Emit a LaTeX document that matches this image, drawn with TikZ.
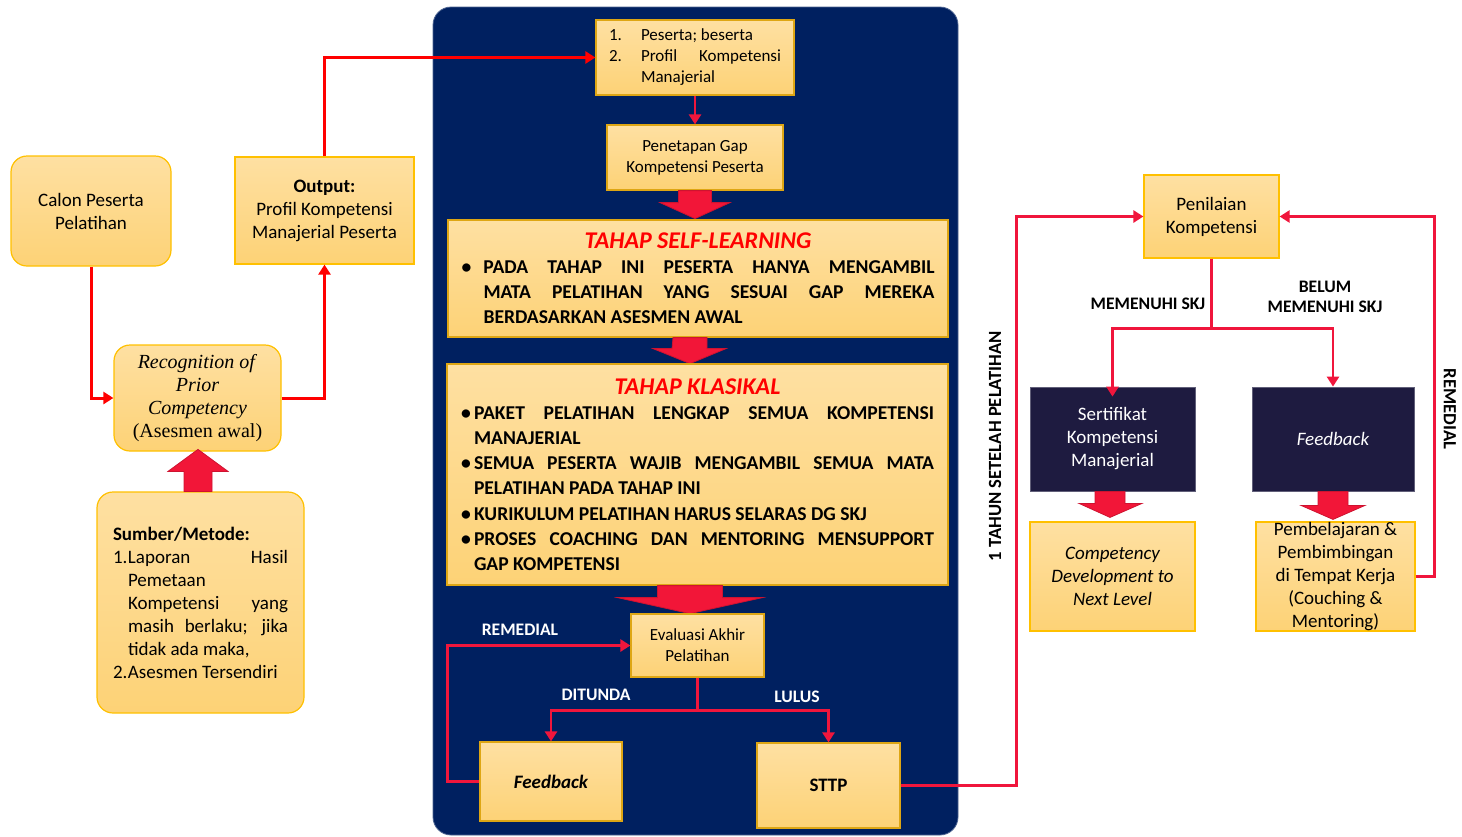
\documentclass[tikz,border=0pt]{standalone}
\usepackage{fontspec}
\setmainfont{Carlito}
\newfontfamily\serifrpl{Liberation Serif}
\usetikzlibrary{calc}
\usetikzlibrary{arrows.meta,positioning}

\definecolor{panelblue}{RGB}{0,32,96}
\definecolor{boxtop}{RGB}{254,224,162}
\definecolor{boxbot}{RGB}{253,210,118}
\definecolor{boxline}{RGB}{255,192,0}
\definecolor{boxlinedark}{RGB}{222,166,20}
\definecolor{linkred}{RGB}{240,22,60}
\definecolor{darkbox}{RGB}{30,27,64}
\definecolor{blockred}{RGB}{242,22,56}

% one list entry with hanging indent: label, indent, text
\newcommand{\listrow}[3]{\hangindent=#2\hangafter=1\noindent\makebox[#2][l]{#1}#3\par}

\tikzset{
  orangebox/.style={rectangle,top color=boxtop,bottom color=boxbot,draw=boxline,line width=0.6pt,inner sep=2pt,align=center},
  roundbox/.style={orangebox,rounded corners=8pt},
  panelbox/.style={orangebox,draw=boxlinedark},
  navybox/.style={rectangle,fill=darkbox,draw=darkbox!70!white,text=white,align=center},
  redlink/.style={draw=red,line width=1.5pt,-{Triangle[length=5pt,width=6pt]}},
  crimsonlink/.style={draw=linkred,line width=1.3pt,-{Triangle[length=5pt,width=6pt]}},
  blockarrow/.style={fill=blockred,draw=blockred!85!black,line width=0.4pt},
  whitelabel/.style={text=white,font=\fontsize{8.8}{10}\selectfont\bfseries},
  blacklabel/.style={text=black,font=\fontsize{8.8}{10}\selectfont\bfseries},
  bodyfont/.style={font=\fontsize{9.5}{11.5}\selectfont},
  smallfont/.style={font=\fontsize{8.5}{10.5}\selectfont},
}

\begin{document}
\begin{tikzpicture}[x=0.5pt,y=-0.5pt]
\useasboundingbox (0,0) rectangle (1462,836);

%blue panel in the middle
\node[rectangle,rounded corners=9pt,fill=panelblue,draw=panelblue!70!white,minimum width=262.5pt,minimum height=414pt] at (695.5,421) (panel) {};

%%%%%%% left side
\node[roundbox,bodyfont,minimum width=80pt,minimum height=55pt] at (91,211) (calon) {Calon Peserta\\Pelatihan};
\node[orangebox,bodyfont,minimum width=89.5pt,minimum height=53.5pt] at (324.5,210.5) (output) {\textbf{Output:}\\Profil Kompetensi\\Manajerial Peserta};
\node[roundbox,font=\serifrpl\fontsize{10}{11.5}\selectfont,minimum width=83.5pt,minimum height=53pt,inner sep=0pt] at (197.5,398) (rpl) {\textit{Recognition of}\\\textit{Prior}\\\textit{Competency}\\(Asesmen awal)};
\node[roundbox,bodyfont,minimum width=103.5pt,minimum height=110.5pt,text width=87.5pt,align=justify] at (200.5,602.5) (sumber) {\textbf{Sumber/Metode:}\par
\listrow{1.}{7.5pt}{Laporan Hasil\linebreak Pemetaan\\ Kompetensi yang\linebreak masih berlaku; jika\linebreak tidak ada maka,}
\listrow{2.}{7.5pt}{Asesmen Tersendiri}};

%up arrow into rpl
\fill[blockarrow] ($(sumber.north)+(-16.5,0)$) -- ++(28,0) -- ++(0,-20) -- ++(16,0) -- ($(sumber.north)+(-2.5,-42)$) -- ($(sumber.north)+(-32.5,-20)$) -- ++(16,0) -- cycle;

\draw[redlink] (calon.south) |- (rpl.west);
\draw[redlink] (rpl.east) -| (output.south);

%%%%%%% middle panel
\node[panelbox,smallfont,minimum width=99pt,minimum height=37.5pt,text width=86pt,align=justify] at (695,57.5) (peserta) {\listrow{1.}{16pt}{Peserta; beserta}
\listrow{2.}{16pt}{Profil Kompetensi\linebreak Manajerial}};
\node[panelbox,smallfont,minimum width=88pt,minimum height=32.5pt] at (695,157.5) (penetapan) {Penetapan Gap\\Kompetensi Peserta};

\draw[redlink] (output.north) |- (peserta.west);
\draw[crimsonlink] (peserta.south) -- (penetapan.north);

\fill[blockarrow] ($(penetapan.south)+(-16.5,0)$) -- ++(33,0) -- ++(0,12) -- ++(18.5,0) -- ($(penetapan.south)+(0,28)$) -- ($(penetapan.south)+(-35,12)$) -- ++(18.5,0) -- cycle;

\node[panelbox,minimum width=250pt,minimum height=58.5pt,text width=236.5pt,align=justify,font=\fontsize{9.8}{12.5}\selectfont\bfseries] at (698,278.5) (selflearning) {{\centering\fontsize{12}{14}\selectfont\itshape\color{red}TAHAP SELF-LEARNING\par}
\listrow{\textbullet}{11pt}{PADA TAHAP INI PESERTA HANYA MENGAMBIL\linebreak MATA PELATIHAN YANG SESUAI GAP MEREKA\linebreak BERDASARKAN ASESMEN AWAL}};

\fill[blockarrow] ($(selflearning.south)+(-25,0)$) -- ++(34,0) -- ++(0,11) -- ++(19,0) -- ($(selflearning.south)+(-8,26)$) -- ($(selflearning.south)+(-45,11)$) -- ++(19,0) -- cycle;

\node[panelbox,minimum width=250.5pt,minimum height=110.5pt,text width=236.5pt,align=justify,font=\fontsize{9.8}{12.6}\selectfont\bfseries] at (697.5,474.5) (klasikal) {{\centering\fontsize{12}{14}\selectfont\itshape\color{red}TAHAP KLASIKAL\par}
\listrow{\textbullet}{6.5pt}{PAKET PELATIHAN LENGKAP SEMUA KOMPETENSI\linebreak MANAJERIAL}
\listrow{\textbullet}{6.5pt}{SEMUA PESERTA WAJIB MENGAMBIL SEMUA MATA\linebreak PELATIHAN PADA TAHAP INI}
\listrow{\textbullet}{6.5pt}{KURIKULUM PELATIHAN HARUS SELARAS DG SKJ}
\listrow{\textbullet}{6.5pt}{PROSES COACHING DAN MENTORING MENSUPPORT\linebreak GAP KOMPETENSI}};

\fill[blockarrow] ($(klasikal.south)+(-40,0)$) -- ++(65,0) -- ++(0,12) -- ++(40,0) -- ($(klasikal.south)+(-7.5,28)$) -- ($(klasikal.south)+(-80,12)$) -- ++(40,0) -- cycle;

\node[panelbox,smallfont,minimum width=66.5pt,minimum height=31.5pt] at (697.5,645.5) (evaluasi) {Evaluasi Akhir\\Pelatihan};
\node[panelbox,font=\fontsize{9.5}{11.5}\selectfont\bfseries\itshape,minimum width=71pt,minimum height=39.5pt] at (551,781.5) (feedback) {Feedback};
\node[panelbox,font=\fontsize{9.5}{11.5}\selectfont\bfseries,minimum width=71.5pt,minimum height=42.5pt] at (828.5,785.5) (sttp) {STTP};

\draw[crimsonlink] (evaluasi.south) -- ++(0,33) -| (feedback.north);
\draw[crimsonlink] (evaluasi.south) -- ++(0,33) -| (sttp.north);
\draw[crimsonlink] (feedback.west) -- ++(-32,0) |- (evaluasi.west);

\node[whitelabel] at (520,630) (remedialleft) {REMEDIAL};
\node[whitelabel] at (596,695) (ditunda) {DITUNDA};
\node[whitelabel] at (797,697) (lulus) {LULUS};

%%%%%%% right side
\node[orangebox,bodyfont,minimum width=67.5pt,minimum height=41.5pt] at (1211.5,216.5) (penilaian) {Penilaian\\Kompetensi};
\node[navybox,bodyfont,minimum width=82.5pt,minimum height=52pt] at (1112.5,439) (sertifikat) {Sertifikat\\Kompetensi\\Manajerial};
\node[navybox,font=\fontsize{9.5}{11.5}\selectfont\itshape,minimum width=81pt,minimum height=52pt] at (1333,439) (feedbackright) {Feedback};
\node[orangebox,font=\fontsize{9.5}{11.5}\selectfont\itshape,minimum width=82.5pt,minimum height=54.5pt] at (1112.5,576.5) (competency) {Competency\\Development to\\Next Level};
\node[orangebox,bodyfont,minimum width=79.5pt,minimum height=54.5pt,inner sep=0pt] at (1335.5,576.5) (pembelajaran) {Pembelajaran \&\\Pembimbingan\\di Tempat Kerja\\(Couching \&\\Mentoring)};

\fill[blockarrow] ($(sertifikat.south)+(-17.5,0)$) -- ++(30,0) -- ++(0,12) -- ++(17,0) -- ($(sertifikat.south)+(-2.5,26)$) -- ($(sertifikat.south)+(-33.5,12)$) -- ++(16,0) -- cycle;
\fill[blockarrow] ($(feedbackright.south)+(-15,0)$) -- ++(30,0) -- ++(0,14) -- ++(17,0) -- ($(feedbackright.south)+(0,28)$) -- ($(feedbackright.south)+(-32,14)$) -- ++(17,0) -- cycle;

\draw[crimsonlink] (sttp.east) -- ++(116,0) |- (penilaian.west);
\draw[crimsonlink,shorten >=-5pt] (penilaian.south) -- ++(0,70) -| (sertifikat.north);
\draw[crimsonlink] (penilaian.south) -- ++(0,70) -| (feedbackright.north);
\draw[crimsonlink] (pembelajaran.east) -- ++(19,0) |- (penilaian.east);

\node[blacklabel] at (1148,304) (memenuhi) {MEMENUHI SKJ};
\node[blacklabel,align=center] at (1325,297) (belum) {BELUM\\MEMENUHI SKJ};
\node[blacklabel,rotate=90,font=\fontsize{9.3}{10}\selectfont\bfseries] at (995,446) (tahun) {1 TAHUN SETELAH PELATIHAN};
\node[blacklabel,rotate=-90,font=\fontsize{9.3}{10}\selectfont\bfseries] at (1450,409) (remedialright) {REMEDIAL};

\end{tikzpicture}
\end{document}
